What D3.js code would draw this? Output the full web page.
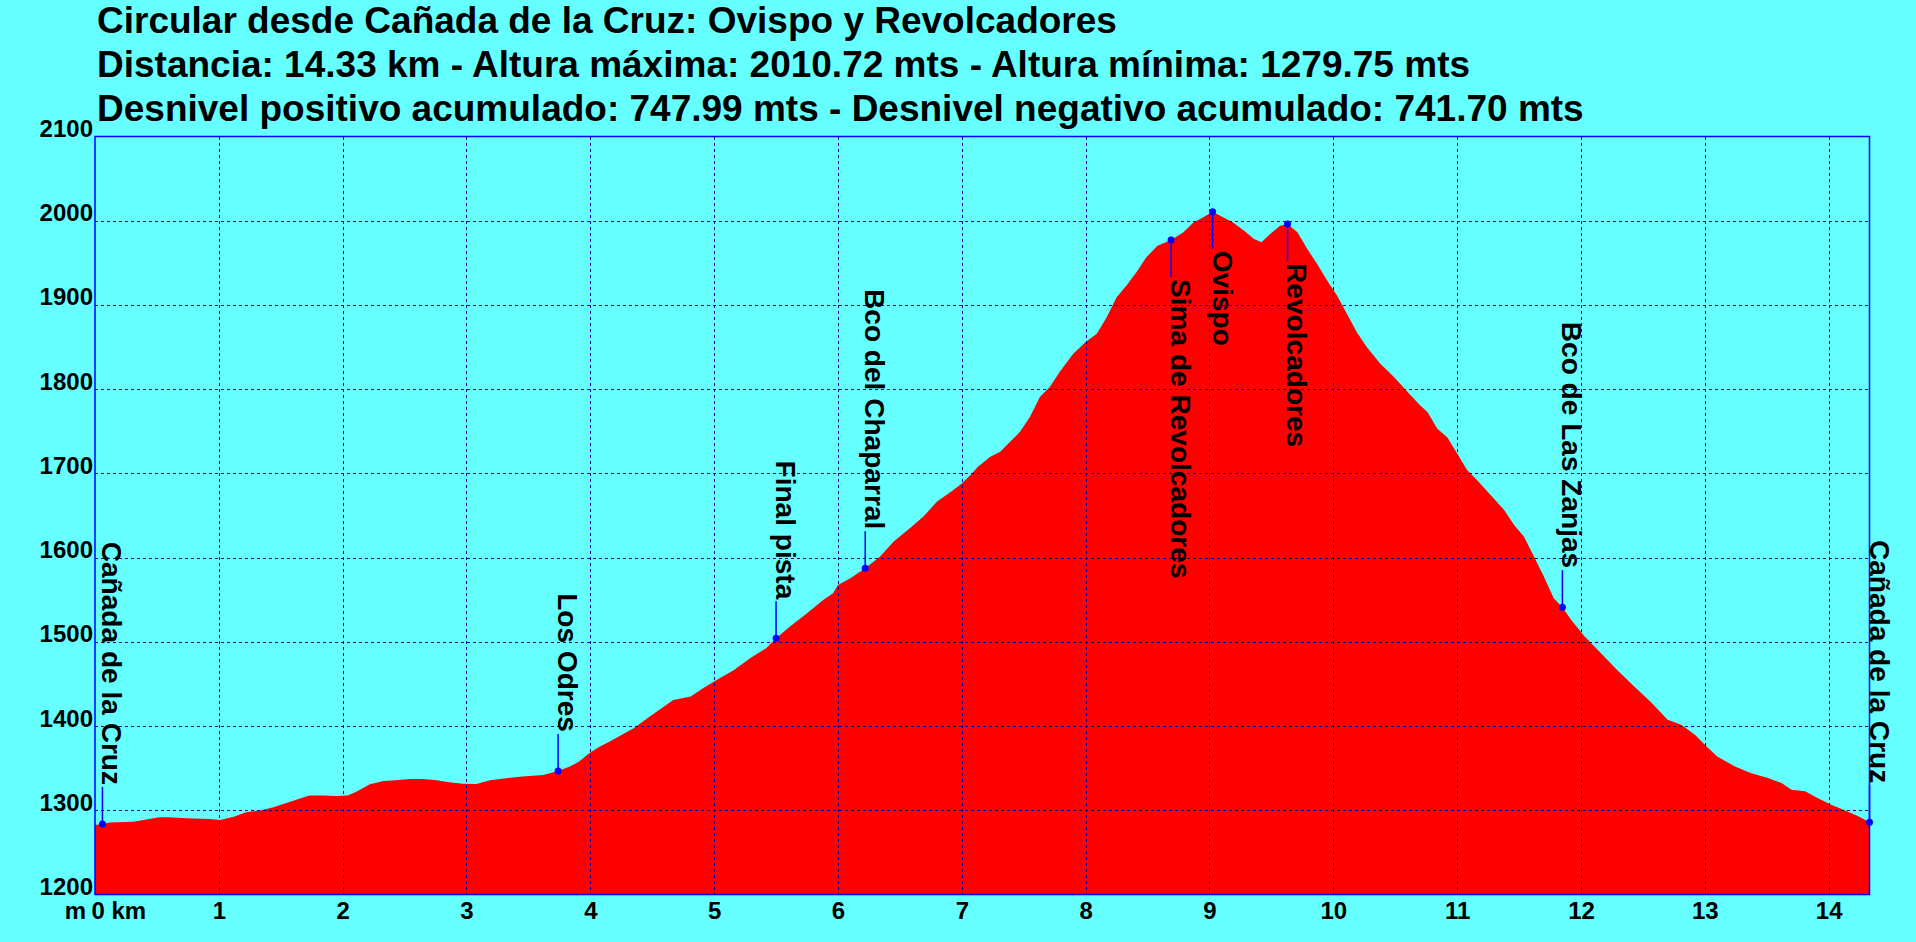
<!DOCTYPE html>
<html lang="es">
<head>
<meta charset="UTF-8">
<title>Circular desde Cañada de la Cruz</title>
<style>
  body { margin: 0; background: #66ffff; }
  svg { display: block; }
  text { font-family: "Liberation Sans", Arial, sans-serif; font-weight: bold; fill: #000; }
  .axis path, .axis line { display: none; }
  .axis text { font-size: 24px; font-family: "Liberation Sans", Arial, sans-serif; font-weight: bold; fill: #000; }
  .grid line { stroke: #0000a8; stroke-width: 1; stroke-dasharray: 3,3; shape-rendering: crispEdges; }
</style>
</head>
<body>
<script src="https://cdn.jsdelivr.net/npm/d3@7/dist/d3.min.js"></script>
<script>
var width = 1916, height = 942;

var titulos = [
  "Circular desde Cañada de la Cruz: Ovispo y Revolcadores",
  "Distancia: 14.33 km - Altura máxima: 2010.72 mts - Altura mínima: 1279.75 mts",
  "Desnivel positivo acumulado: 747.99 mts - Desnivel negativo acumulado: 741.70 mts"
];

// perfil: distancia (km) y altura (m)
var distancia = [0.00,0.06,0.12,0.31,0.52,0.60,0.74,0.93,1.01,1.12,1.22,1.33,1.44,1.57,1.73,1.84,1.95,2.04,2.11,2.22,
  2.33,2.43,2.54,2.65,2.76,2.86,2.97,3.08,3.19,3.32,3.45,3.62,3.74,3.83,3.91,3.99,4.07,4.16,4.35,4.48,
  4.67,4.81,4.91,5.02,5.16,5.29,5.42,5.50,5.61,5.75,5.88,5.96,6.00,6.10,6.22,6.34,6.45,6.58,6.69,6.80,
  6.91,7.00,7.07,7.13,7.23,7.31,7.39,7.47,7.55,7.63,7.71,7.79,7.90,8.00,8.09,8.17,8.25,8.33,8.41,8.49,
  8.58,8.69,8.79,8.87,8.95,9.025,9.11,9.19,9.28,9.36,9.42,9.49,9.57,9.63,9.71,9.79,9.87,9.95,10.03,10.11,
  10.19,10.27,10.38,10.49,10.60,10.70,10.76,10.84,10.92,11.00,11.08,11.16,11.27,11.38,11.46,11.54,11.62,11.70,11.78,11.85,
  11.92,12.03,12.16,12.29,12.43,12.56,12.70,12.81,12.92,13.00,13.10,13.24,13.37,13.51,13.62,13.70,13.81,13.91,14.02,14.13,
  14.24,14.33];
var altura = [1282.5,1283.7,1285.5,1286.5,1291.6,1291.6,1290.5,1289.7,1288.5,1292.4,1297.6,1299.6,1303.5,1309.9,1317.4,1317.4,1317.0,1317.4,1322.0,1330.8,
  1334.8,1335.6,1337.2,1337.2,1335.6,1333.2,1331.6,1331.2,1335.6,1338.0,1340.0,1342.0,1346.7,1351.8,1357.8,1367.6,1375.0,1382.0,1397.3,1411.2,
  1431.0,1435.0,1444.9,1454.7,1466.6,1480.5,1492.4,1504.2,1518.0,1533.9,1549.7,1557.7,1567.5,1575.5,1587.4,1601.2,1619.0,1634.9,1648.7,1666.6,
  1678.0,1688.0,1698.0,1708.0,1719.7,1725.6,1737.5,1749.3,1767.0,1790.8,1802.6,1820.4,1842.0,1855.9,1865.8,1885.5,1909.2,1923.0,1938.8,1956.6,
  1970.4,1977.1,1986.2,1998.0,2004.0,2010.7,2004.0,1998.0,1988.0,1978.3,1974.3,1984.2,1994.0,1996.0,1986.2,1966.4,1948.7,1928.9,1911.2,1889.5,
  1867.7,1850.0,1830.2,1814.4,1796.7,1780.9,1773.0,1753.0,1743.0,1723.7,1704.0,1692.1,1674.3,1656.5,1638.7,1624.9,1601.2,1577.5,1551.8,1541.1,
  1526.1,1506.3,1486.6,1466.8,1447.0,1429.2,1407.5,1401.6,1389.7,1377.9,1364.0,1352.2,1344.3,1338.3,1332.4,1324.5,1322.5,1314.6,1306.7,1300.0,
  1292.9,1285.8];

// puntos de paso
var puntos = ["Cañada de la Cruz","Los Odres","Final pista","Bco del Chaparral","Sima de Revolcadores","Ovispo","Revolcadores","Bco de Las Zanjas","Cañada de la Cruz"];
var puntosKm = [0.06,3.74,5.50,6.22,8.69,9.025,9.63,11.85,14.33];
var puntosAlt = [1283.7,1346.7,1504.2,1587.4,1977.1,2010.7,1996.0,1541.1,1285.8];

var ticksKm = [0,1,2,3,4,5,6,7,8,9,10,11,12,13,14];
var ticksAlt = [1200,1300,1400,1500,1600,1700,1800,1900,2000,2100];

var plotLeft = 95, plotRight = 1869.5, plotTop = 136.5, plotBottom = 894.5;

var x = d3.scaleLinear().domain([0, 14.33]).range([plotLeft, plotRight]);
var y = d3.scaleLinear().domain([1200, 2100]).range([plotBottom, plotTop]);

var svg = d3.select("body").append("svg")
  .attr("width", width)
  .attr("height", height);

svg.append("rect").attr("width", width).attr("height", height).attr("fill", "#66ffff");

// titulos
svg.selectAll(".titulo")
  .data(titulos)
  .enter().append("text")
  .attr("class", "titulo")
  .attr("x", 97)
  .attr("y", function(d, i){ return 33 + i * 44; })
  .style("font-size", "37px")
  .text(function(d){ return d; });

// area del perfil
var perfil = distancia.map(function(d, i){ return [d, altura[i]]; });
var area = d3.area()
  .x(function(d){ return x(d[0]); })
  .y0(plotBottom)
  .y1(function(d){ return y(d[1]); });
svg.append("path").datum(perfil).attr("d", area).attr("fill", "#ff0000");

// rejilla
var grid = svg.append("g").attr("class", "grid");
grid.selectAll(".gv")
  .data(ticksKm.filter(function(d){ return d > 0; }))
  .enter().append("line")
  .attr("x1", function(d){ return Math.round(x(d)) + 0.5; })
  .attr("x2", function(d){ return Math.round(x(d)) + 0.5; })
  .attr("y1", plotTop).attr("y2", plotBottom);
grid.selectAll(".gh")
  .data(ticksAlt.filter(function(d){ return d > 1200 && d < 2100; }))
  .enter().append("line")
  .attr("y1", function(d){ return Math.round(y(d)) + 0.5; })
  .attr("y2", function(d){ return Math.round(y(d)) + 0.5; })
  .attr("x1", plotLeft).attr("x2", plotRight);

// marco
svg.append("rect")
  .attr("x", plotLeft).attr("y", plotTop)
  .attr("width", plotRight - plotLeft).attr("height", plotBottom - plotTop)
  .attr("fill", "none").attr("stroke", "#0000ff").attr("stroke-width", 1.5);

// ejes
var ejeY = d3.axisLeft(y).tickValues(ticksAlt).tickSize(0).tickPadding(2).tickFormat(d3.format("d"));
svg.append("g").attr("class", "axis")
  .attr("transform", "translate(" + plotLeft + ",0)")
  .call(ejeY)
  .selectAll("text").attr("dy", 0);

var ejeX = d3.axisBottom(x).tickValues(ticksKm).tickSize(0).tickPadding(7)
  .tickFormat(function(d){ return d === 0 ? "0 km" : d; });
var gx = svg.append("g").attr("class", "axis")
  .attr("transform", "translate(0," + plotBottom + ")")
  .call(ejeX);
gx.selectAll("text").filter(function(d){ return d === 0; })
  .attr("text-anchor", "start").attr("x", -4);

svg.append("text")
  .attr("x", 86).attr("y", 919)
  .attr("text-anchor", "end")
  .style("font-size", "24px")
  .text("m");

// puntos de paso
var largo = 37, escala = 1.04;
var wp = svg.append("g");
puntos.forEach(function(nombre, i){
  var px = x(puntosKm[i]), py = y(puntosAlt[i]);
  var t = wp.append("text")
    .style("font-size", "27px")
    .text(nombre);
  var len = t.node().getComputedTextLength() * escala;
  var arriba = (py - largo - len - 2) > plotTop;
  var ty = arriba ? py - largo - 2 : py + largo + 2;
  t.attr("text-anchor", arriba ? "end" : "start")
   .attr("transform", "translate(" + px + "," + ty + ") rotate(90) scale(" + escala + ",1)");
  wp.append("line")
    .attr("x1", px).attr("x2", px)
    .attr("y1", py).attr("y2", arriba ? py - largo : py + largo)
    .attr("stroke", "#0000ff").attr("stroke-width", 1.5);
  wp.append("circle")
    .attr("cx", px).attr("cy", py).attr("r", 3.5)
    .attr("fill", "#0000ff");
});
</script>
</body>
</html>
